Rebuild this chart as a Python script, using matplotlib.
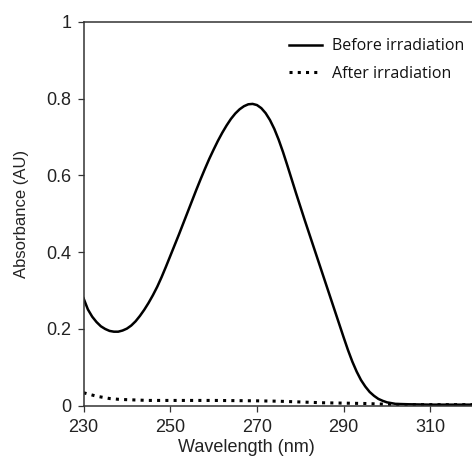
import numpy as np
import matplotlib
matplotlib.use("Agg")
import matplotlib.pyplot as plt

plt.rcParams["font.family"] = "Liberation Sans"

# UV-vis spectrum
wavelength = [230, 231, 232, 233, 234, 235, 236, 237, 238, 239, 240, 241, 242, 243, 244,
              245, 246, 247, 248, 249, 250, 251, 252, 253, 254, 255, 256, 257, 258, 259,
              260, 261, 262, 263, 264, 265, 266, 267, 268, 269, 270, 271, 272, 273, 274,
              275, 276, 277, 278, 279, 280, 281, 282, 283, 284, 285, 286, 287, 288, 289,
              290, 291, 292, 293, 294, 295, 296, 297, 298, 299, 300, 302, 305, 310, 315, 320]
before = [0.280, 0.251, 0.232, 0.218, 0.207, 0.200, 0.195, 0.193, 0.193, 0.196, 0.201,
          0.209, 0.220, 0.234, 0.250, 0.268, 0.288, 0.310, 0.335, 0.362, 0.390, 0.418,
          0.446, 0.475, 0.504, 0.533, 0.562, 0.590, 0.617, 0.643, 0.667, 0.690, 0.711,
          0.730, 0.747, 0.761, 0.772, 0.780, 0.785, 0.786, 0.783, 0.775, 0.762, 0.744,
          0.721, 0.693, 0.661, 0.626, 0.590, 0.554, 0.519, 0.484, 0.450, 0.416, 0.382,
          0.348, 0.314, 0.280, 0.246, 0.212, 0.178, 0.145, 0.115, 0.089, 0.067, 0.050,
          0.036, 0.026, 0.018, 0.013, 0.009, 0.005, 0.004, 0.003, 0.003, 0.003]

wavelength_after = [230, 231, 232, 233, 234, 235, 236, 237, 238, 240, 245, 250, 260, 270,
                    275, 280, 285, 290, 295, 300, 305, 310, 320]
after = [0.034, 0.031, 0.028, 0.025, 0.023, 0.021, 0.019, 0.018, 0.017, 0.016, 0.014,
         0.014, 0.014, 0.013, 0.012, 0.010, 0.008, 0.007, 0.006, 0.004, 0.003, 0.003, 0.003]

x_ticks = [230, 250, 270, 290, 310]
y_ticks = [0, 0.2, 0.4, 0.6, 0.8, 1]
y_tick_labels = ["0", "0.2", "0.4", "0.6", "0.8", "1"]

fig = plt.figure(figsize=(4.72, 4.57), dpi=100)
ax = fig.add_axes([0.177, 0.112, 0.823, 0.8405])

ax.plot(wavelength, before, color="black", lw=1.8, label="Before irradiation")
ax.plot(wavelength_after, after, color="black", lw=2.2, linestyle=(0, (1, 1.7)),
        dash_capstyle="butt", label="After irradiation")

ax.set_xlim(230, 319.6)
ax.set_ylim(0, 1)
ax.set_xticks(x_ticks)
ax.set_yticks(y_ticks)
ax.set_yticklabels(y_tick_labels)

for side in ["left", "bottom", "top"]:
    ax.spines[side].set_linewidth(1.1)
    ax.spines[side].set_color("#333333")
ax.spines["right"].set_visible(False)

ax.tick_params(direction="out", length=4, width=0.9, color="#333333",
               labelsize=13, labelcolor="#222222")
ax.tick_params(axis="x", pad=5.5)
ax.tick_params(axis="y", pad=4.5)

ax.set_xlabel("Wavelength (nm)", fontsize=13, color="#222222")
ax.set_ylabel("Absorbance (AU)", fontsize=12, color="#222222")
ax.xaxis.set_label_coords(0.419, -0.087)
ax.yaxis.set_label_coords(-0.141, 0.5)

leg = ax.legend(loc="upper left", bbox_to_anchor=(0.528, 0.957), frameon=False,
                prop={"family": "Open Sans", "size": 11.5}, handlelength=2.1,
                handletextpad=0.6, labelspacing=0.72, borderpad=0, borderaxespad=0)
for t in leg.get_texts():
    t.set_color("#111111")

fig.savefig("out.png", dpi=100)
